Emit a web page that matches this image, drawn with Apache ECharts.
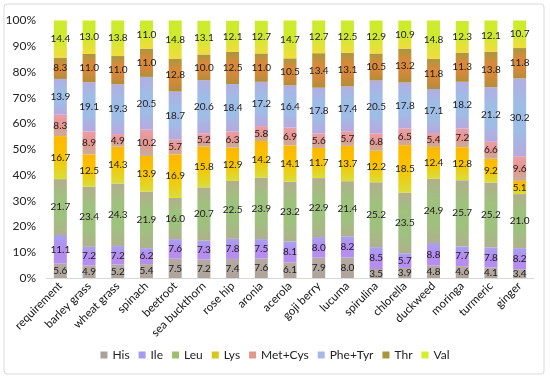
<!DOCTYPE html>
<html><head><meta charset="utf-8">
<script src="https://cdn.jsdelivr.net/npm/echarts@6/dist/echarts.min.js"></script>
<style>html,body{margin:0;padding:0;background:#fff}#c{width:550px;height:379px}</style>
</head><body><div id="c"></div>
<script>
const categories = ['requirement','barley grass','wheat grass','spinach','beetroot','sea buckthorn','rose hip','aronia','acerola','goji berry','lucuma','spirulina','chlorella','duckweed','moringa','turmeric','ginger'];
const His    = [5.6,4.9,5.2,5.4,7.5,7.2,7.4,7.6,6.1,7.9,8.0,3.5,3.9,4.8,4.6,4.1,3.4];
const Ile    = [11.1,7.2,7.2,6.2,7.6,7.3,7.8,7.5,8.1,8.0,8.2,8.5,5.7,8.8,7.7,7.8,8.2];
const Leu    = [21.7,23.4,24.3,21.9,16.0,20.7,22.5,23.9,23.2,22.9,21.4,25.2,23.5,24.9,25.7,25.2,21.0];
const Lys    = [16.7,12.5,14.3,13.9,16.9,15.8,12.9,14.2,14.1,11.7,13.7,12.2,18.5,12.4,12.8,9.2,5.1];
const MetCys = [8.3,8.9,4.9,10.2,5.7,5.2,6.3,5.8,6.9,5.6,5.7,6.8,6.5,5.4,7.2,6.6,9.6];
const PheTyr = [13.9,19.1,19.3,20.5,18.7,20.6,18.4,17.2,16.4,17.8,17.4,20.5,17.8,17.1,18.2,21.2,30.2];
const Thr    = [8.3,11.0,11.0,11.0,12.8,10.0,12.5,11.0,10.5,13.4,13.1,10.5,13.2,11.8,11.3,13.8,11.8];
const Val    = [14.4,13.0,13.8,11.0,14.8,13.1,12.1,12.7,14.7,12.7,12.5,12.9,10.9,14.8,12.3,12.1,10.7];
const yTicks = ['0%','10%','20%','30%','40%','50%','60%','70%','80%','90%','100%'];

const seriesDefs = [
  {name:'His', data:His, legend:'#A9A29B', stops:['#B5AAA2','#AFA49B']},
  {name:'Ile', data:Ile, legend:'#A59CF0', stops:['#A7A2EE','#B48CF0','#B58FEF']},
  {name:'Leu', data:Leu, legend:'#9DBE6E', stops:['#B3AE8C','#9EC27E','#9EC27E','#B0B08C']},
  {name:'Lys', data:Lys, legend:'#D9C61C', stops:['#FFB700','#F8C400','#D8DE3A']},
  {name:'Met+Cys', data:MetCys, legend:'#E2988C', stops:['#E7A0A8','#E8948E','#C8AE98']},
  {name:'Phe+Tyr', data:PheTyr, legend:'#A9B6E8', stops:['#B2AEE2','#9EBDE6','#9EBDE6','#B8A8DE']},
  {name:'Thr', data:Thr, legend:'#A8963A', stops:['#A8983C','#D88A3A','#D6883A','#B08E3A']},
  {name:'Val', data:Val, legend:'#D2F02A', stops:['#CDEB2C','#CFEA30','#F2DC3C']}
];

function grad(stops){
  return {type:'linear',x:0,y:0,x2:0,y2:1,colorStops:stops.map((c,i)=>({offset:i/(stops.length-1),color:c}))};
}

const chart = echarts.init(document.getElementById('c'));
chart.setOption({
  animation:false,
  backgroundColor:'#fff',
  graphic:[{type:'rect',shape:{x:4,y:4,width:540,height:370,r:3},style:{fill:'none',stroke:'#D9D9D9',lineWidth:1},silent:true}],
  grid:{left:46,right:16,top:20.5,bottom:101},
  legend:{
    bottom:13,left:'center',icon:'rect',itemWidth:7,itemHeight:7,itemGap:9,
    textStyle:{fontFamily:'Lato',fontSize:12,color:'#222'},
    data:seriesDefs.map(s=>({name:s.name,itemStyle:{color:s.legend}}))
  },
  xAxis:{
    type:'category',data:categories,
    axisLine:{lineStyle:{color:'#D9D9D9'}},axisTick:{show:false},
    axisLabel:{rotate:45,interval:0,fontFamily:'Lato',fontSize:11.5,color:'#111',margin:6}
  },
  yAxis:{
    type:'value',min:0,max:100,interval:10,
    splitLine:{show:false},axisLine:{show:false},axisTick:{show:false},
    axisLabel:{fontFamily:'Lato',fontSize:12,color:'#222',margin:10,formatter:v=>yTicks[Math.round(v/10)]}
  },
  series:seriesDefs.map(s=>({
    name:s.name,type:'bar',stack:'a',barWidth:13,data:s.data,
    itemStyle:{color:grad(s.stops)},
    label:{show:true,position:'inside',fontFamily:'Lato',fontSize:10,color:'#1a1a1a',formatter:p=>p.value.toFixed(1)}
  }))
});
</script></body></html>
